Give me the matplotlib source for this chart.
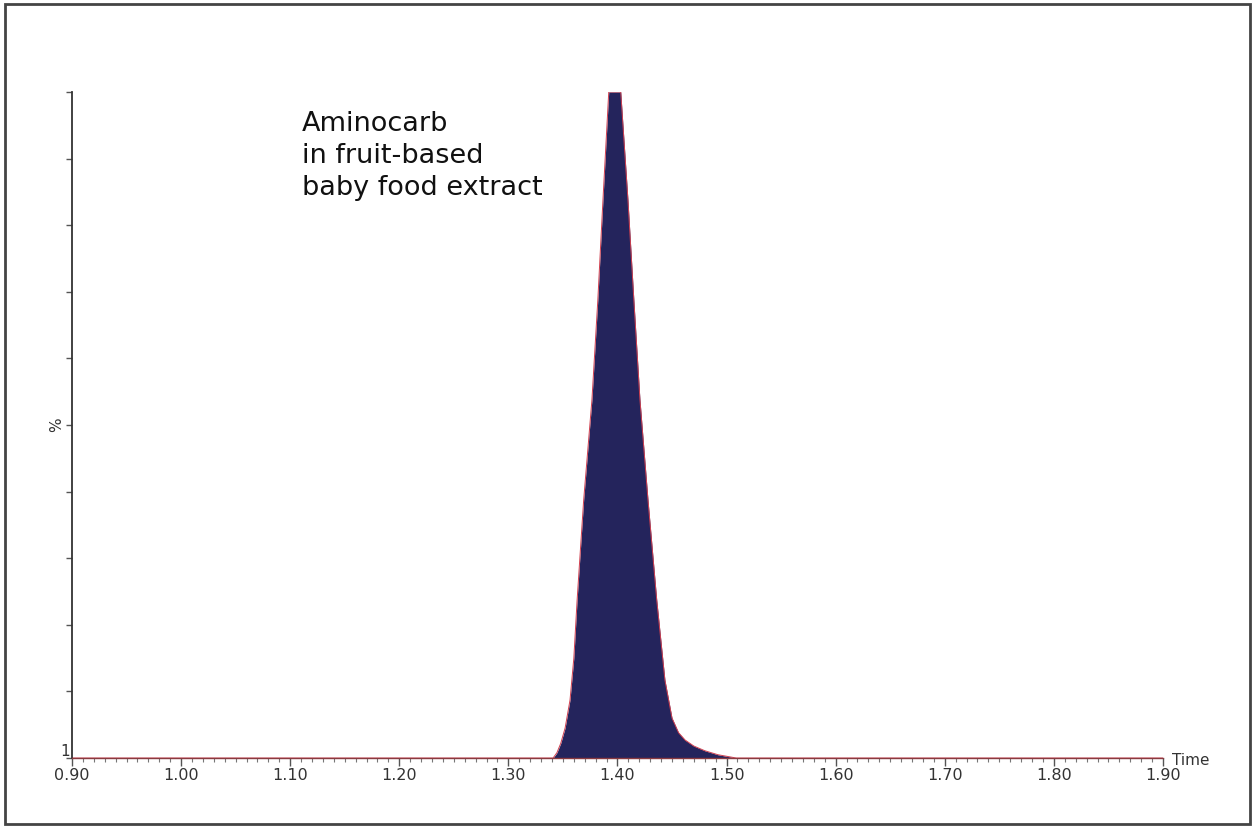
import matplotlib
matplotlib.use("Agg")
import matplotlib.pyplot as plt
from matplotlib.patches import Rectangle
from matplotlib.ticker import MultipleLocator, FixedLocator

# Data (retention time in minutes, relative intensity in %)
time = [0.90, 1.341, 1.3445, 1.348, 1.352, 1.3565, 1.360, 1.363, 1.369, 1.3766, 1.382, 1.3867, 1.392,
        1.403, 1.4096, 1.415, 1.4206, 1.428, 1.436, 1.4435, 1.450, 1.456, 1.462, 1.470, 1.480, 1.492, 1.509, 1.90]
intensity = [0.0, 0.0, 0.8, 2.2, 4.5, 8.7, 15.0, 23.7, 38.7, 53.8, 68.8, 83.8, 100.0,
             100.0, 83.8, 68.8, 53.8, 38.7, 23.7, 11.7, 6.0, 3.8, 2.7, 1.8, 1.1, 0.5, 0.0, 0.0]
xticks = [0.90, 1.00, 1.10, 1.20, 1.30, 1.40, 1.50, 1.60, 1.70, 1.80, 1.90]
xtick_labels = ["0.90", "1.00", "1.10", "1.20", "1.30", "1.40", "1.50", "1.60", "1.70", "1.80", "1.90"]
annotation = "Aminocarb\nin fruit-based\nbaby food extract"

plt.rcParams['font.family'] = ['DejaVu Sans']

fig = plt.figure(figsize=(12.54, 8.27), dpi=100)
fig.patch.set_facecolor('white')

# outer border
fig.patches.append(Rectangle((0.004, 0.004), 0.993, 0.991, transform=fig.transFigure,
                             fill=False, edgecolor='#444444', linewidth=2))

ax = fig.add_axes([0.0574, 0.0834, 0.87, 0.8054])
ax.fill_between(time, intensity, 0, color='#24245c', linewidth=0)
ax.plot(time, intensity, color='#d04050', linewidth=0.7)

ax.set_xlim(0.90, 1.90)
ax.set_ylim(0, 100)

for s in ['top', 'right']:
    ax.spines[s].set_visible(False)
ax.spines['left'].set_color('#333333')
ax.spines['left'].set_linewidth(1.3)
ax.spines['bottom'].set_color('#8a3a40')
ax.spines['bottom'].set_linewidth(1.0)

ax.xaxis.set_major_locator(FixedLocator(xticks))
ax.set_xticklabels(xtick_labels)
ax.xaxis.set_minor_locator(MultipleLocator(0.01))
ax.tick_params(axis='x', which='major', direction='out', length=6, width=1, color='#555555',
               labelsize=11.5, labelcolor='#333333', pad=1)
ax.tick_params(axis='x', which='minor', direction='out', length=3, width=0.8, color='#777777')

ax.yaxis.set_major_locator(MultipleLocator(10))
ax.tick_params(axis='y', which='major', direction='out', length=4, width=1, color='#555555',
               labelleft=False)

ax.text(1.908, -0.3, 'Time', ha='left', va='center', fontsize=11, color='#333333')
ax.text(-0.002, -0.2, '1', transform=ax.get_yaxis_transform(), ha='right', va='bottom',
        fontsize=11, color='#333333')
ax.text(-0.007, 50, '%', transform=ax.get_yaxis_transform(), ha='right', va='center',
        rotation=90, fontsize=11, color='#333333')

ax.text(1.111, 97.2, annotation, ha='left', va='top', fontsize=19.5, color='#111111',
        linespacing=1.3)

fig.savefig('out.png', dpi=100)
